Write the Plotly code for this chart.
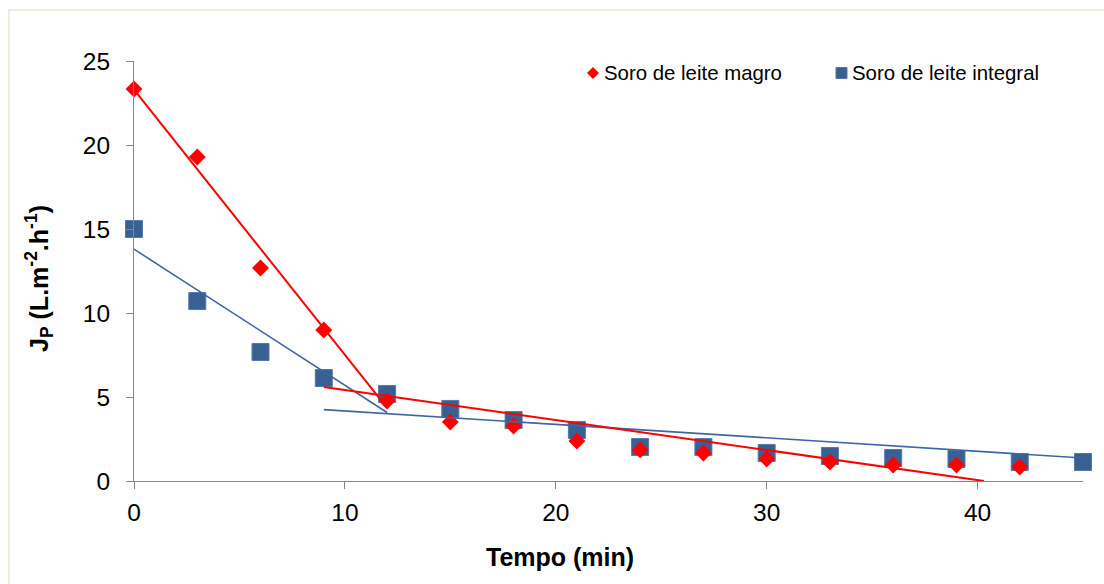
import plotly.graph_objects as go

# Permeate flux over time for two whey types
tempo = [0, 3, 6, 9, 12, 15, 18, 21, 24, 27, 30, 33, 36, 39, 42, 45]
magro = [23.33, 19.29, 12.68, 8.99, 4.76, 3.51, 3.27, 2.38, 1.85, 1.67, 1.31, 1.13, 0.95, 0.95, 0.83]
integral = [15.0, 10.71, 7.68, 6.13, 5.18, 4.29, 3.63, 3.04, 2.02, 2.02, 1.67, 1.49, 1.37, 1.31, 1.13, 1.13]

# Linear trend segments (start and end points)
magro_fit1_x, magro_fit1_y = [0, 12], [23.3, 4.35]
magro_fit2_x, magro_fit2_y = [9, 40.3], [5.6, 0.0]
integral_fit1_x, integral_fit1_y = [0, 12], [13.8, 4.08]
integral_fit2_x, integral_fit2_y = [9, 45], [4.25, 1.37]

x_ticks = [0, 10, 20, 30, 40]
y_ticks = [0, 5, 10, 15, 20, 25]

RED = "#FF0000"
BLUE = "#386092"
BLUE_LINE = "#3F66A2"
FONT = "Liberation Sans, Arial, sans-serif"

W, H = 1104, 584
L, R, T, B = 134, 21, 61, 103
pw, ph = W - L - R, H - T - B


def px(xp):
    return (xp - L) / pw


def py(yp):
    return (H - B - yp) / ph


fig = go.Figure()

fig.add_trace(go.Scatter(
    x=tempo[:len(integral)], y=integral, mode="markers", name="Soro de leite integral",
    marker=dict(symbol="square", size=17, color=BLUE, line=dict(color="#5579A8", width=1)),
    cliponaxis=False, showlegend=False,
))
fig.add_trace(go.Scatter(
    x=tempo[:len(magro)], y=magro, mode="markers", name="Soro de leite magro",
    marker=dict(symbol="diamond", size=13, color=RED, line=dict(width=0)),
    cliponaxis=False, showlegend=False,
))

for fx, fy, col, w in [
    (integral_fit1_x, integral_fit1_y, BLUE_LINE, 1.6),
    (integral_fit2_x, integral_fit2_y, BLUE_LINE, 1.6),
    (magro_fit1_x, magro_fit1_y, RED, 2),
    (magro_fit2_x, magro_fit2_y, RED, 2),
]:
    fig.add_trace(go.Scatter(
        x=fx, y=fy, mode="lines", line=dict(color=col, width=w),
        showlegend=False, hoverinfo="skip", cliponaxis=False,
    ))

shapes = [
    # outer chart border
    dict(type="rect", xref="paper", yref="paper",
         x0=px(9), x1=px(1110), y0=py(10), y1=py(600),
         line=dict(color="#EEECE1", width=2), fillcolor="rgba(0,0,0,0)", layer="below"),
    # legend keys
    dict(type="path", xref="paper", yref="paper", xsizemode="pixel", ysizemode="pixel",
         xanchor=px(593), yanchor=py(73), path="M-6,0L0,6L6,0L0,-6Z",
         fillcolor=RED, line=dict(width=0)),
    dict(type="rect", xref="paper", yref="paper", xsizemode="pixel", ysizemode="pixel",
         xanchor=px(841.5), yanchor=py(73), x0=-5.5, x1=5.5, y0=-5.5, y1=5.5,
         fillcolor=BLUE, line=dict(color="#5579A8", width=1)),
]

annotations = [
    dict(text="Soro de leite magro", xref="paper", yref="paper", x=px(602), y=py(73),
         xanchor="left", yanchor="middle", showarrow=False,
         font=dict(family=FONT, size=20.4, color="#000000")),
    dict(text="Soro de leite integral", xref="paper", yref="paper", x=px(850), y=py(73),
         xanchor="left", yanchor="middle", showarrow=False,
         font=dict(family=FONT, size=20.4, color="#000000")),
    dict(text="<b>Tempo (min)</b>", xref="paper", yref="paper", x=px(560), y=py(557),
         xanchor="center", yanchor="middle", showarrow=False,
         font=dict(family=FONT, size=25, color="#000000")),
    dict(text="<b>J<sub>P</sub> (L.m<sup>-2</sup>.h<sup>-1</sup>)</b>", xref="paper", yref="paper",
         x=px(39), y=py(279), xanchor="center", yanchor="middle", textangle=-90,
         showarrow=False, font=dict(family=FONT, size=25, color="#000000")),
]

axis_common = dict(
    showline=True, linecolor="#868686", linewidth=1,
    ticks="outside", ticklen=7, tickcolor="#868686", tickwidth=1,
    showgrid=False, zeroline=False,
    tickfont=dict(family=FONT, size=24.5, color="#000000"),
)

fig.update_layout(
    width=W, height=H,
    margin=dict(l=L, r=R, t=T, b=B),
    paper_bgcolor="white", plot_bgcolor="white",
    xaxis=dict(range=[0, 45], tickvals=x_ticks, ticktext=[str(v) for v in x_ticks],
               ticklabelstandoff=3, **axis_common),
    yaxis=dict(range=[0, 25], tickvals=y_ticks, ticktext=[str(v) for v in y_ticks],
               ticklabelstandoff=11, **axis_common),
    shapes=shapes,
    annotations=annotations,
    showlegend=False,
)

fig.write_html("out.html")
